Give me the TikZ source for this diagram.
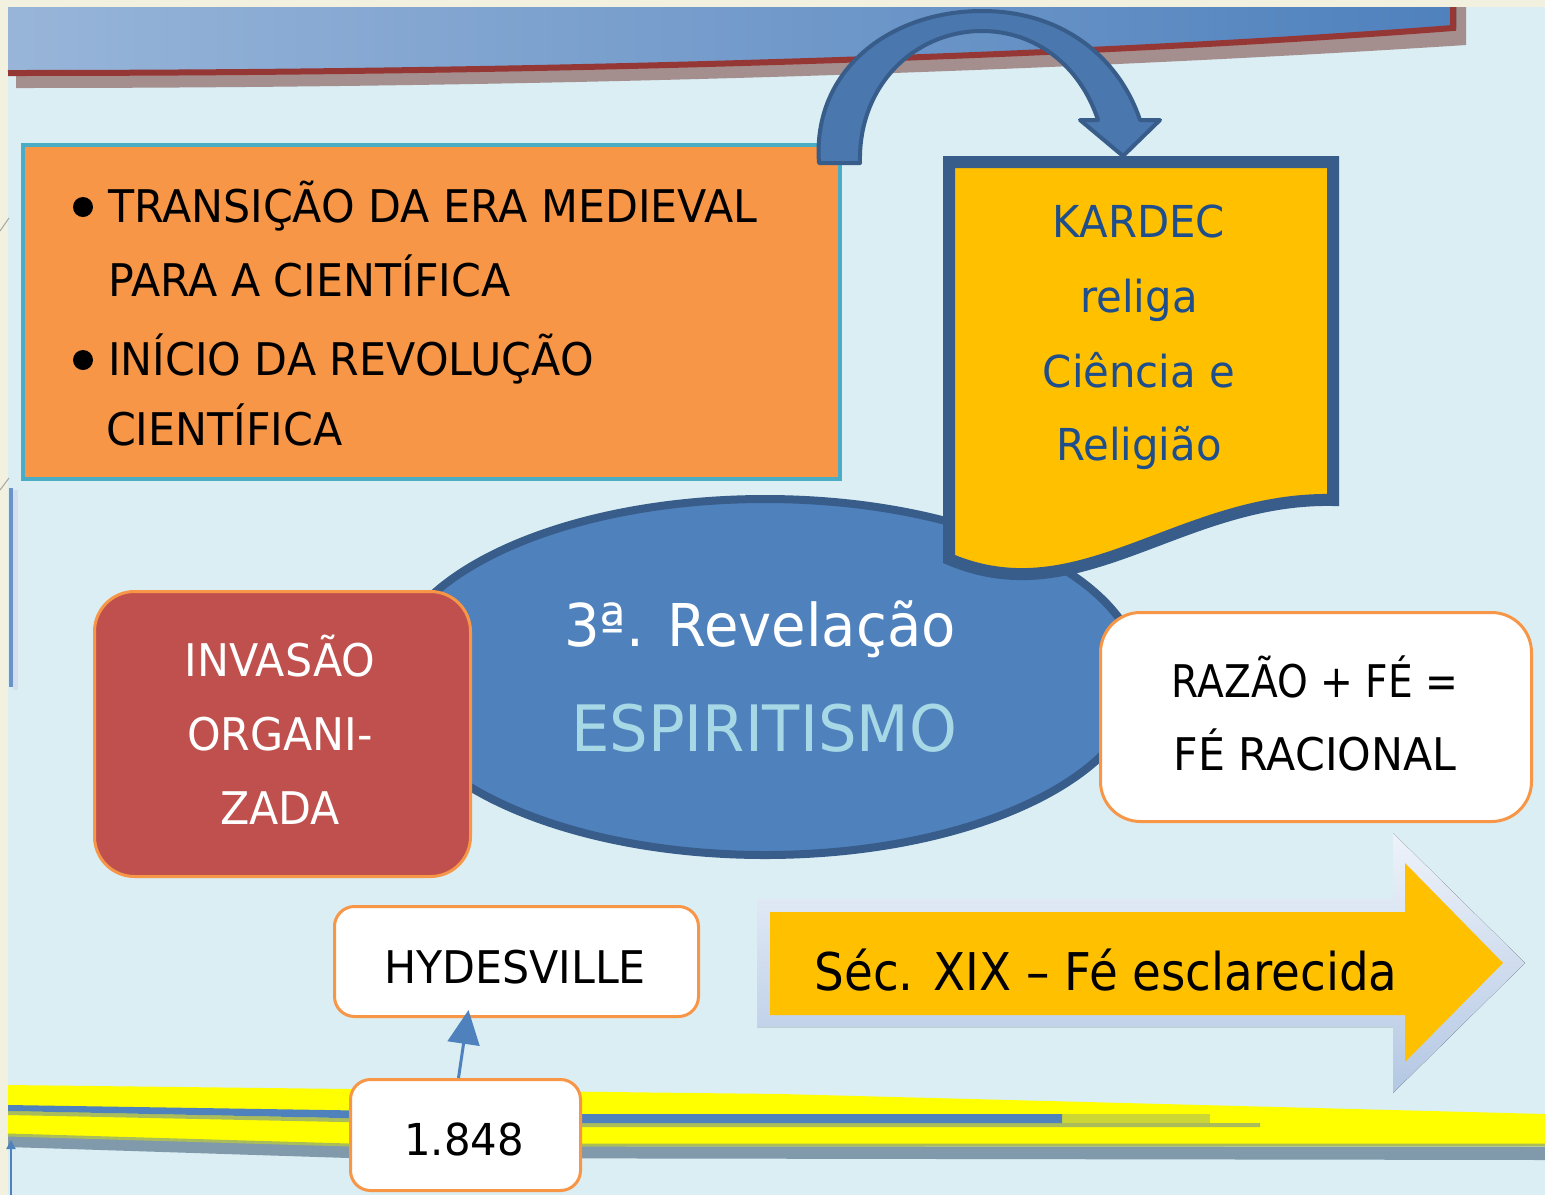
\documentclass[tikz,border=0pt]{standalone}
\usepackage{fontspec}
\setmainfont{DejaVu Sans}[FakeStretch=0.95]
\newfontfamily\arrowfont{DejaVu Sans}[FakeStretch=0.9]
\newfontfamily\narrowfont{DejaVu Sans}[FakeStretch=0.87]
\usetikzlibrary{shapes.geometric,arrows.meta}
\definecolor{beige}{HTML}{F2F0DE}
\definecolor{bgblue}{HTML}{DAEEF3}
\definecolor{bannerL}{HTML}{98B5D9}
\definecolor{bannerR}{HTML}{4F81BD}
\definecolor{redline}{HTML}{953735}
\definecolor{bshadow}{HTML}{A48E8E}
\definecolor{orangebox}{HTML}{F79646}
\definecolor{tealline}{HTML}{4BACC6}
\definecolor{gold}{HTML}{FFC000}
\definecolor{darkblue}{HTML}{385D8A}
\definecolor{midblue}{HTML}{4F81BD}
\definecolor{redbox}{HTML}{C0504D}
\definecolor{kardtxt}{HTML}{1F4E8C}
\definecolor{espfill}{HTML}{A6D8E6}
\definecolor{bandyellow}{HTML}{FFFF00}
\definecolor{bandgray}{HTML}{8099AB}
\definecolor{olive}{HTML}{AABD5A}
\definecolor{shadowtop}{HTML}{EEF3FA}
\definecolor{shadowbot}{HTML}{B3C7E3}
\begin{document}
\begin{tikzpicture}[x=1pt,y=-1pt,
  txt/.style={anchor=base,inner sep=0pt,outer sep=0pt},
  fA/.style={font=\fontsize{45}{54}\selectfont},
  fK/.style={font=\fontsize{44}{54}\selectfont},
  roundbox/.style={draw=orangebox,line width=3pt,rounded corners=#1,inner sep=0pt},
  roundbox/.default=40pt]
\useasboundingbox (0,0) rectangle (1545,1195);
% backgrounds
\fill[beige] (0,0) rectangle (1545,1195);
\fill[bgblue] (8,7) rectangle (1545,1195);
\draw[gray!70,line width=1pt] (0,231) -- (9,218);
\draw[gray!70,line width=1pt] (0,490) -- (9,478);
\fill[midblue!85] (9,488) rectangle (13,687);
\fill[midblue!25] (13,490) rectangle (18,690);
% banner
\fill[bshadow] (16,7) -- (1466,7) -- (1466,45) .. controls (1110,68) and (610,88) .. (16,88) -- cycle;
\fill[left color=bannerL,right color=bannerR] (8,7) -- (1456,7) -- (1456,28) .. controls (1100,55) and (600,73) .. (8,73) -- cycle;
\draw[redline,line width=6pt] (1453,7) -- (1453,28) .. controls (1100,55) and (600,73) .. (8,73);
% bottom band
\fill[bandgray] (8,1134) -- (349,1146) -- (1545,1147) -- (1545,1160) -- (349,1158) -- (8,1147) -- cycle;
\fill[bandyellow] (8,1085) -- (780,1094) -- (1545,1114) -- (1545,1144) -- (349,1144) -- (8,1135) -- cycle;
\draw[olive,line width=3pt] (8,1135) -- (349,1145) -- (1545,1145);
\fill[olive] (8,1111) -- (580,1123) -- (1260,1123) -- (1260,1127) -- (580,1127) -- (8,1115) -- cycle;
\fill[olive!60!bandyellow] (1062,1114) -- (1210,1114) -- (1210,1123) -- (1062,1123) -- cycle;
\fill[midblue] (8,1105) -- (580,1114) -- (1062,1114) -- (1062,1123) -- (580,1123) -- (8,1111) -- cycle;
\draw[midblue,line width=2pt,-{Triangle[width=9pt,length=9pt]}] (11,1195) -- (11,1140);
% orange box
\node[draw=tealline,line width=4pt,fill=orangebox,minimum width=817pt,minimum height=334pt,inner sep=0pt] (trans) at (431.5,312) {};
\fill (83,207) circle[radius=10pt];
\fill (83,360) circle[radius=10pt];
\node[txt,anchor=base west,fA] (t1) at (108,222) {TRANSIÇÃO DA ERA MEDIEVAL};
\node[txt,anchor=base west,fA] (t2) at (108,296) {PARA A CIENTÍFICA};
\node[txt,anchor=base west,fA] (t3) at (108,375) {INÍCIO DA REVOLUÇÃO};
\node[txt,anchor=base west,fA] (t4) at (106,445) {CIENTÍFICA};
% ellipse
\node[ellipse,draw=darkblue,line width=8pt,fill=midblue,minimum width=750pt,minimum height=356pt,inner sep=0pt] (rev) at (765,677) {};
% kardec document shape
\filldraw[fill=gold,draw=darkblue,line width=12pt,line join=miter] (949,162) -- (1333,162) -- (1333,500) .. controls (1180,497) and (1080,615) .. (949,559) -- cycle;
\node[txt,fK,text=kardtxt] (k1) at (1139,237) {KARDEC};
\node[txt,fK,text=kardtxt] (k2) at (1139,312) {religa};
\node[txt,fK,text=kardtxt] (k3) at (1139,387) {Ciência e};
\node[txt,fK,text=kardtxt] (k4) at (1139,460) {Religião};
% curved arrow
\filldraw[fill=midblue!92!black,draw=darkblue,line width=4pt,line join=round]
  (819,163) .. controls (812,70) and (890,11) .. (982,11)
  .. controls (1065,11) and (1120,60) .. (1140,120)
  -- (1160,120) -- (1123,156) -- (1080,120) -- (1098,120)
  .. controls (1080,65) and (1035,31) .. (982,31)
  .. controls (915,31) and (858,85) .. (860,163) -- cycle;
% red box
\node[roundbox,fill=redbox,minimum width=376pt,minimum height=285pt] (inv) at (282.5,734) {};
\node[txt,fA,text=white] (i1) at (280,676) {INVASÃO};
\node[txt,fA,text=white] (i2) at (280,750) {ORGANI-};
\node[txt,fA,text=white] (i3) at (280,824) {ZADA};
% white box
\node[roundbox,fill=white,minimum width=431pt,minimum height=209pt] (raz) at (1316,717) {};
\node[txt,font=\narrowfont\fontsize{45}{54}\selectfont] (r1) at (1315,697) {RAZÃO + FÉ =};
\node[txt,fA] (r2) at (1315,770) {FÉ RACIONAL};
% ellipse texts
\node[txt,text=white,font=\fontsize{59}{64}\selectfont] (rv) at (760,646) {3ª. Revelação};
\node[txt,text=espfill,font=\fontsize{64}{70}\selectfont] (esp) at (764,751) {ESPIRITISMO};
% big arrow
\fill[top color=shadowtop,bottom color=shadowbot] (757,899) -- (1393,899) -- (1393,833) -- (1525,963) -- (1393,1093) -- (1393,1027) -- (757,1027) -- cycle;
\fill[gold] (770,912) -- (1405,912) -- (1405,863) -- (1503,963) -- (1405,1062) -- (1405,1015) -- (770,1015) -- cycle;
\node[txt,font=\arrowfont\fontsize{52}{60}\selectfont] (sec) at (1106,990) {Séc. XIX – Fé esclarecida};
% hydesville and 1848
\node[roundbox=20pt,fill=white,minimum width=364pt,minimum height=110pt] (hyd) at (516.5,961.5) {};
\node[txt,fA] (hydt) at (515,983) {HYDESVILLE};
\node[roundbox=20pt,fill=white,minimum width=230pt,minimum height=111pt] (one) at (465.5,1135) {};
\node[txt,fK] (onet) at (464,1155) {1.848};
\draw[midblue,line width=3pt,-{Triangle[width=32pt,length=34pt]}] ([xshift=-7pt]one.north) -- ([xshift=-48pt,yshift=8pt]hyd.south);
\end{tikzpicture}
\end{document}
